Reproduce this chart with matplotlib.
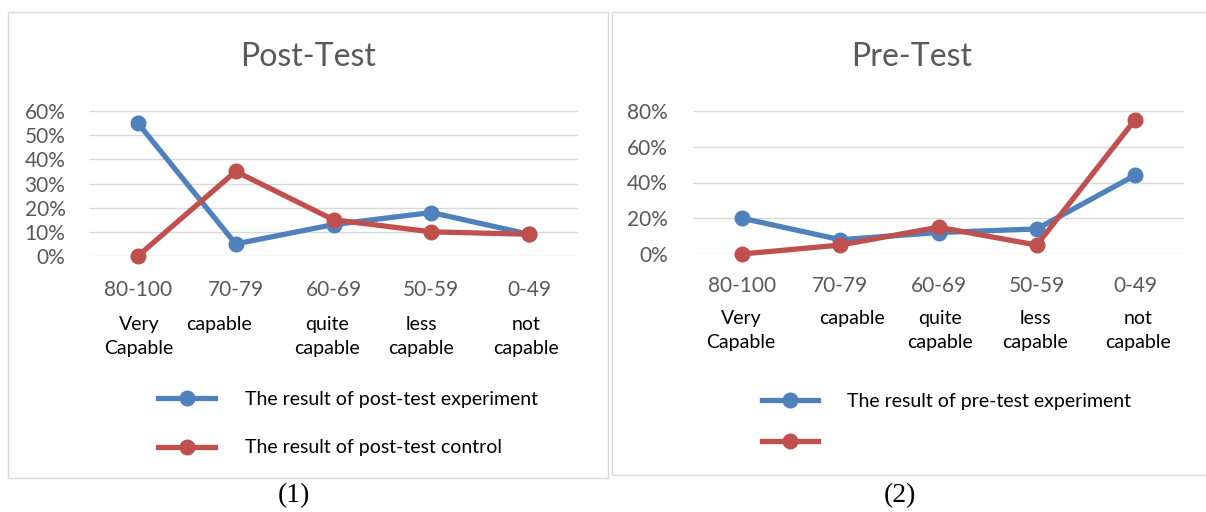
import matplotlib.pyplot as plt
from matplotlib.patches import Rectangle
from matplotlib.lines import Line2D

plt.rcParams['font.family'] = ['Lato', 'DejaVu Sans']

# data
categories = ['80-100', '70-79', '60-69', '50-59', '0-49']
descriptions = ['Very\nCapable', 'capable', 'quite\ncapable', 'less\ncapable', 'not\ncapable']

post_experiment = [0.55, 0.05, 0.13, 0.18, 0.09]
post_control = [0.00, 0.35, 0.15, 0.10, 0.09]

pre_experiment = [0.20, 0.08, 0.12, 0.14, 0.44]
pre_control = [0.00, 0.05, 0.15, 0.05, 0.75]

BLUE = '#4F81BD'
RED = '#C0504D'
GRAY = '#595959'
W, H = 1206, 512
LW, MS = 3.8, 10.5

fig = plt.figure(figsize=(W / 100, H / 100), dpi=100)


def px_axes(x0, x1, ytop, ybot):
    return fig.add_axes([x0 / W, 1 - ybot / H, (x1 - x0) / W, (ybot - ytop) / H])


def draw_panel(ax, title, title_x, s1, s2, ymax, step, desc_x, desc_y, tick_pad, ypad):
    x = range(len(categories))
    for vals, c in ((s1, BLUE), (s2, RED)):
        ax.plot(x, vals, color=c, lw=LW, marker='o', ms=MS, clip_on=False,
                solid_capstyle='round', zorder=3)
    ax.set_xlim(-0.5, len(categories) - 0.5)
    ax.set_ylim(0, ymax)
    ticks = [i * step for i in range(int(round(ymax / step)) + 1)]
    ax.set_yticks(ticks)
    ax.set_yticklabels(['%d%%' % round(t * 100) for t in ticks])
    ax.set_xticks(list(x))
    ax.set_xticklabels(categories)
    ax.grid(axis='y', color='#D9D9D9', lw=1)
    ax.set_axisbelow(True)
    for s in ax.spines.values():
        s.set_visible(False)
    ax.tick_params(length=0, labelsize=15, labelcolor=GRAY)
    ax.tick_params(axis='x', pad=tick_pad)
    ax.tick_params(axis='y', pad=ypad)
    fig.text(title_x / W, 1 - 57 / H, title, ha='center', va='center',
             fontsize=23, color=GRAY)
    for d, dx in zip(descriptions, desc_x):
        fig.text(dx / W, 1 - desc_y / H, d, ha='center', va='top', fontsize=14,
                 linespacing=1.5, color='black')


# left panel: post-test
ax1 = px_axes(89, 578, 111, 256)
draw_panel(ax1, 'Post-Test', 308, post_experiment, post_control, 0.6, 0.1,
           [139, 219, 327, 421, 526], 316, 17, 17)

# right panel: pre-test
ax2 = px_axes(693, 1184, 111, 254)
draw_panel(ax2, 'Pre-Test', 912, pre_experiment, pre_control, 0.8, 0.2,
           [741, 852, 940, 1035, 1138], 310, 16, 18)

# legends
h_blue = Line2D([], [], color=BLUE, lw=LW, marker='o', ms=MS)
h_red = Line2D([], [], color=RED, lw=LW, marker='o', ms=MS)

fig.legend([h_blue, h_red], ['The result of post-test experiment', 'The result of post-test control'],
           loc='upper left', bbox_to_anchor=(158 / W, 1 - 391 / H), frameon=False,
           fontsize=14, handlelength=2.95, handletextpad=1.55, labelspacing=1.62,
           borderpad=0, borderaxespad=0)
fig.legend([h_blue, h_red], ['The result of pre-test experiment', ''],
           loc='upper left', bbox_to_anchor=(762 / W, 1 - 393 / H), frameon=False,
           fontsize=14, handlelength=2.9, handletextpad=1.45, labelspacing=1.21,
           borderpad=0, borderaxespad=0)

# panel borders
fig.patches.append(Rectangle((8 / W, 1 - 478 / H), 600 / W, 466 / H, fill=False,
                             edgecolor='#D9D9D9', lw=1, transform=fig.transFigure))
fig.patches.append(Rectangle((612 / W, 1 - 475 / H), 600 / W, 463 / H, fill=False,
                             edgecolor='#D9D9D9', lw=1, transform=fig.transFigure))

# captions
fig.text(294 / W, 1 - 496 / H, '(1)', ha='center', va='center', fontsize=20,
         family='Liberation Serif')
fig.text(900 / W, 1 - 496 / H, '(2)', ha='center', va='center', fontsize=20,
         family='Liberation Serif')

fig.savefig('out.png', dpi=100)
